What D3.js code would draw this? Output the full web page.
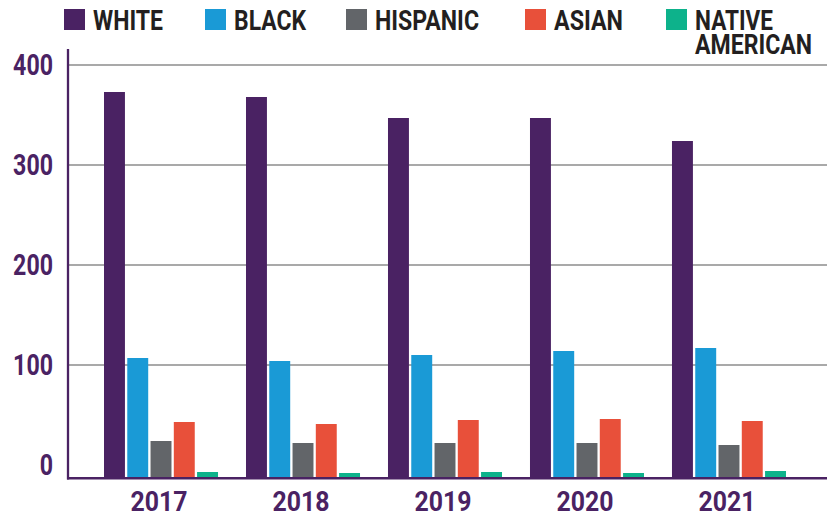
<!DOCTYPE html>
<html>
<head>
<meta charset="utf-8">
<script src="https://cdn.jsdelivr.net/npm/d3@7"></script>
<style>
  html, body { margin: 0; padding: 0; background: #fff; }
  svg { display: block; }
  text { font-family: Roboto, "Noto Sans", sans-serif; font-weight: 700; }
</style>
</head>
<body>
<svg id="chart" width="827" height="516"></svg>
<script>
// ---- data ----
const years = ["2017", "2018", "2019", "2020", "2021"];
const seriesNames = ["WHITE", "BLACK", "HISPANIC", "ASIAN", "NATIVE AMERICAN"];
const white    = [385, 380, 359, 359, 336];
const black    = [119, 116, 122, 126, 129];
const hispanic = [36, 34, 34, 34, 32];
const asian    = [55, 53, 57, 58, 56];
const native   = [5, 4, 5, 4, 6];
const tickValues = [0, 100, 200, 300, 400];
const colors = ["#4a2263", "#1a9ad6", "#626569", "#e8503a", "#0db28b"];

const seriesValues = [white, black, hispanic, asian, native];
const rows = years.map((yr, i) => ({
  year: yr,
  values: seriesNames.map((s, j) => ({ key: s, value: seriesValues[j][i], color: colors[j] }))
}));

const svg = d3.select("#chart");
const axisX = 68, baseY = 477, topY = 49, rightX = 827;
const tickOffset = 12; // the printed axis scale sits 12px above the bars' baseline

const y = d3.scaleLinear().domain([0, 100]).range([baseY, baseY - 100]);
const x0 = d3.scaleBand().domain(years).range([104, 786]).paddingInner(0.197).paddingOuter(0);
const x1 = d3.scaleBand().domain(seriesNames).range([0, x0.bandwidth()]).paddingInner(0.1);

// gridlines
svg.append("g").selectAll("line").data(tickValues.filter(v => v > 0)).join("line")
  .attr("x1", axisX).attr("x2", rightX)
  .attr("y1", d => y(d) - tickOffset).attr("y2", d => y(d) - tickOffset)
  .attr("stroke", "#a9a9a9").attr("stroke-width", 2);

// tick labels
svg.append("g").selectAll("text").data(tickValues).join("text")
  .attr("x", 53).attr("y", d => y(d) - tickOffset)
  .attr("dy", "0.36em")
  .attr("text-anchor", "end")
  .attr("font-size", 29)
  .attr("fill", "#4a2263")
  .attr("textLength", d => String(d).length * 13.3)
  .attr("lengthAdjust", "spacingAndGlyphs")
  .text(d => d);

// bars
const groups = svg.append("g").selectAll("g").data(rows).join("g")
  .attr("transform", d => `translate(${x0(d.year)},0)`);
groups.selectAll("rect").data(d => d.values).join("rect")
  .attr("x", d => x1(d.key))
  .attr("width", x1.bandwidth())
  .attr("y", d => y(d.value))
  .attr("height", d => y(0) - y(d.value))
  .attr("fill", d => d.color);

// axes lines
svg.append("line").attr("x1", axisX).attr("x2", axisX).attr("y1", topY).attr("y2", baseY + 2.5)
  .attr("stroke", "#4a2263").attr("stroke-width", 2.3);
svg.append("line").attr("x1", axisX - 1).attr("x2", rightX).attr("y1", baseY + 1.2).attr("y2", baseY + 1.2)
  .attr("stroke", "#4a2263").attr("stroke-width", 2.6);

// year labels
svg.append("g").selectAll("text").data(years).join("text")
  .attr("x", d => x0(d) + x0.bandwidth() / 2 - 2)
  .attr("y", 511)
  .attr("text-anchor", "middle")
  .attr("font-size", 28)
  .attr("fill", "#4a2263")
  .attr("textLength", 57)
  .attr("lengthAdjust", "spacingAndGlyphs")
  .text(d => d);

// legend
const legendX = [64, 205, 346, 525, 666];
const legendW = [[70], [72], [104], [69], [78, 117]];
const legendLines = [["WHITE"], ["BLACK"], ["HISPANIC"], ["ASIAN"], ["NATIVE", "AMERICAN"]];
const leg = svg.append("g").selectAll("g").data(seriesNames).join("g")
  .attr("transform", (d, i) => `translate(${legendX[i]},0)`);
leg.append("rect").attr("x", 0).attr("y", 9).attr("width", 21).attr("height", 21)
  .attr("fill", (d, i) => colors[i]);
leg.each(function(d, i) {
  const t = d3.select(this).append("text")
    .attr("font-size", 27)
    .attr("fill", "#231f20");
  legendLines[i].forEach((ln, k) => {
    t.append("tspan")
      .attr("x", 29).attr("y", 29.5 + k * 24)
      .attr("textLength", legendW[i][k])
      .attr("lengthAdjust", "spacingAndGlyphs")
      .text(ln);
  });
});
</script>
</body>
</html>
